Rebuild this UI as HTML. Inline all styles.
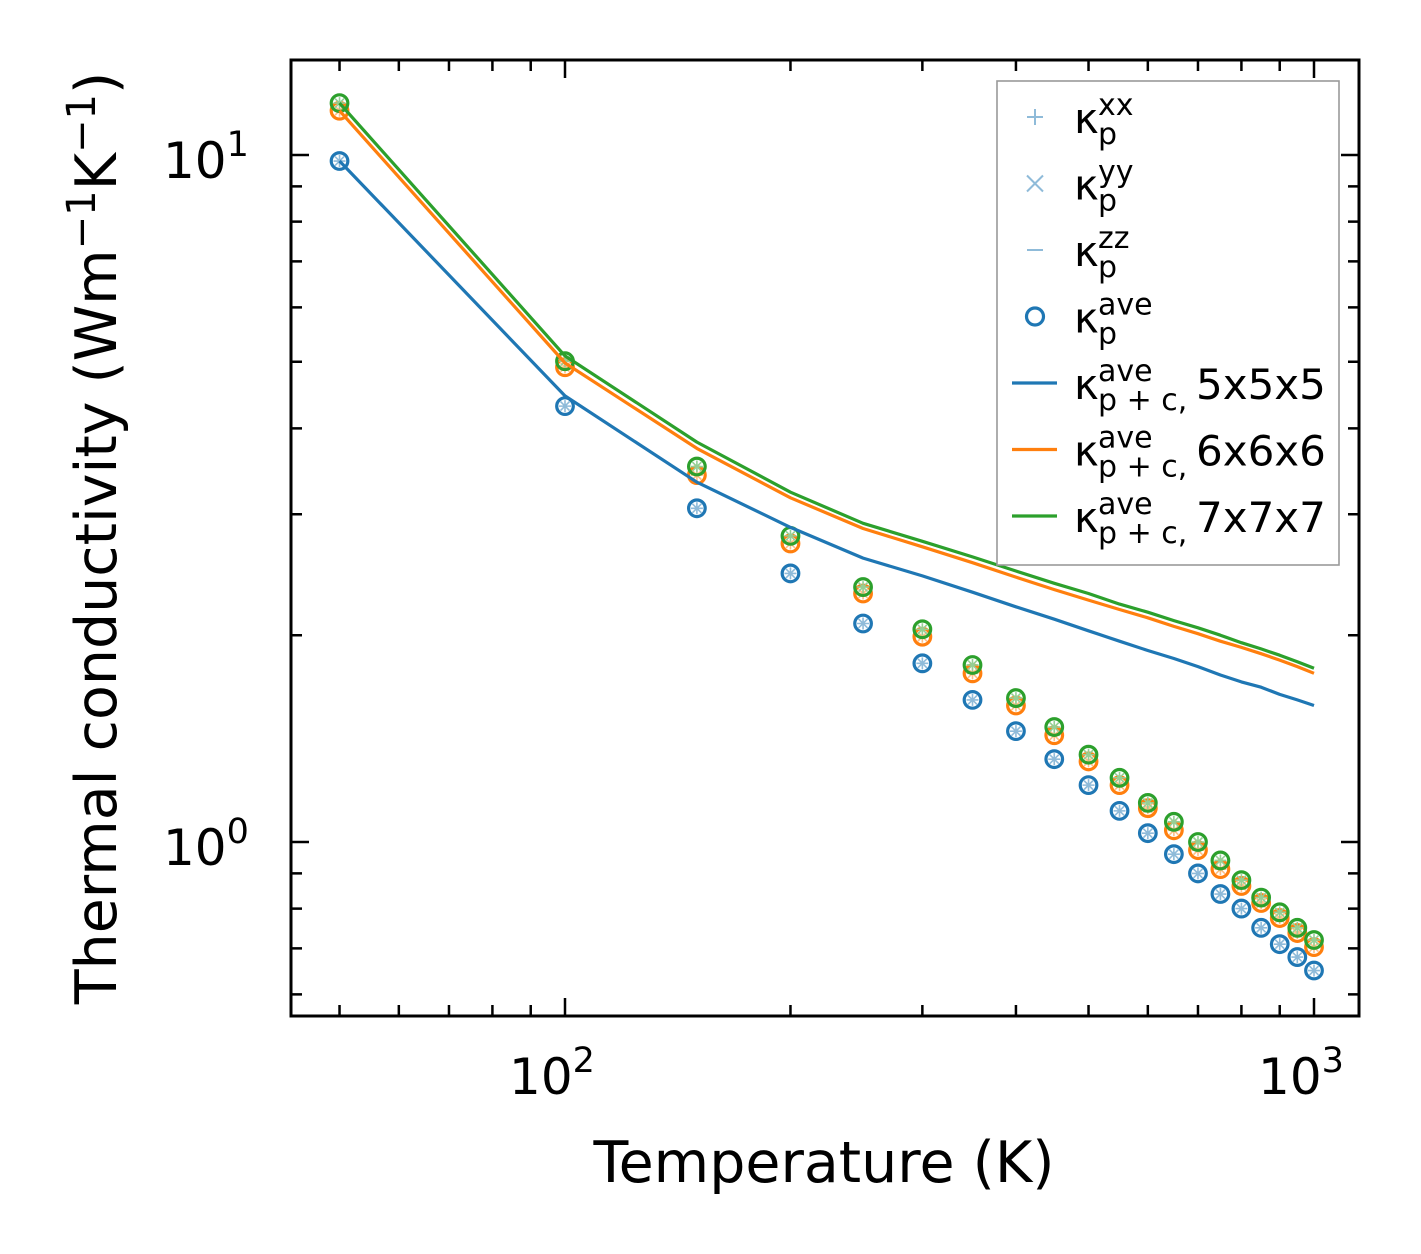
<!DOCTYPE html>
<html><head><meta charset="utf-8"><style>
html,body{margin:0;padding:0;background:#fff;}
svg{display:block;font-family:"DejaVu Sans","Liberation Sans",sans-serif;}
</style></head><body>
<svg id="chart" width="1421" height="1254" viewBox="0 0 1421 1254" xmlns="http://www.w3.org/2000/svg">
<rect x="0" y="0" width="1421" height="1254" fill="#fff"/>
<g id="marks"></g>
<g id="axes"></g>
<g id="legend"></g>
<text x="824" y="1182" font-size="57" text-anchor="middle">Temperature (K)</text>
<text transform="translate(116,538) rotate(-90)" font-size="57" text-anchor="middle">Thermal conductivity (Wm<tspan dy="-21" font-size="40">−1</tspan><tspan dy="21">K</tspan><tspan dy="-21" font-size="40">−1</tspan><tspan dy="21">)</tspan></text>
</svg>
<script>
const temps = [50,100,150,200,250,300,350,400,450,500,550,600,650,700,750,800,850,900,950,1000];
const kpAve5 = [9.8,4.31,3.06,2.46,2.08,1.82,1.61,1.45,1.32,1.21,1.11,1.03,0.96,0.90,0.84,0.80,0.75,0.71,0.68,0.65];
const kpAve6 = [11.6,4.91,3.42,2.72,2.30,1.99,1.76,1.58,1.43,1.31,1.21,1.12,1.04,0.973,0.913,0.863,0.815,0.775,0.737,0.703];
const kpAve7 = [11.9,5.01,3.52,2.79,2.35,2.04,1.81,1.62,1.47,1.34,1.24,1.14,1.07,1.0,0.94,0.88,0.83,0.79,0.75,0.72];
const kpc5 = [9.8,4.46,3.34,2.87,2.59,2.44,2.31,2.20,2.11,2.03,1.96,1.90,1.85,1.80,1.75,1.71,1.68,1.64,1.61,1.58];
const kpc6 = [11.6,4.98,3.74,3.17,2.86,2.69,2.55,2.43,2.33,2.25,2.18,2.12,2.06,2.01,1.96,1.92,1.88,1.84,1.80,1.76];
const kpc7 = [11.9,5.10,3.82,3.23,2.91,2.74,2.60,2.48,2.38,2.30,2.22,2.16,2.10,2.05,2.00,1.95,1.91,1.87,1.83,1.79];
const xMajorTicks = [100,1000];
const xMajorLabels = ["2","3"];
const yMajorTicks = [1,10];
const yMajorLabels = ["0","1"];

const NS="http://www.w3.org/2000/svg";
const L=291,R=1359,T=60,B=1016;
function xs(v){return 565+(Math.log10(v)-2)*749;}
function ys(v){return 842-Math.log10(v)*687;}
function mk(tag,attrs,parent){const e=document.createElementNS(NS,tag);for(const k in attrs)e.setAttribute(k,attrs[k]);parent.appendChild(e);return e;}
const marks=document.getElementById('marks');
const axes=document.getElementById('axes');
const legend=document.getElementById('legend');
const C={b:'#1f77b4',o:'#ff7f0e',g:'#2ca02c'};
const light={b:'#8fbbd9',o:'#ffbf86',g:'#95cf95'};

function drawLine(vals,color,name){
  const d=temps.map((t,i)=>(i?'L':'M')+xs(t).toFixed(1)+','+ys(vals[i]).toFixed(1)).join(' ');
  const p=mk('path',{d:d,fill:'none',stroke:color,'stroke-width':3.2,'stroke-linejoin':'round'},marks);
  
  
}
function drawPoints(vals,key,name){
  const g=mk('g',{},marks);
  
  
  temps.forEach((t,i)=>{
    const x=xs(t),y=ys(vals[i]);
    const c=mk('circle',{cx:x,cy:y,r:8.3,fill:'none',stroke:C[key],'stroke-width':3.2},g);
    
    
    const s=6,lc=light[key];
    mk('path',{d:`M${x-s},${y}H${x+s}M${x},${y-s}V${y+s}M${x-4.5},${y-4.5}L${x+4.5},${y+4.5}M${x-4.5},${y+4.5}L${x+4.5},${y-4.5}`,stroke:lc,'stroke-width':1.6,fill:'none'},g);
  });
}
drawPoints(kpAve5,'b','points-5x5x5');
drawPoints(kpAve6,'o','points-6x6x6');
drawPoints(kpAve7,'g','points-7x7x7');
drawLine(kpc5,C.b,'line-5x5x5');
drawLine(kpc6,C.o,'line-6x6x6');
drawLine(kpc7,C.g,'line-7x7x7');

const fr=mk('rect',{x:L,y:T,width:R-L,height:B-T,fill:'none',stroke:'#000','stroke-width':3},axes);


function tickX(v,len){const x=xs(v);mk('path',{d:`M${x},${B}v${-len}M${x},${T}v${len}`,stroke:'#000','stroke-width':2.5},axes);}
function tickY(v,len){const y=ys(v);mk('path',{d:`M${L},${y}h${len}M${R},${y}h${-len}`,stroke:'#000','stroke-width':2.5},axes);}
[50,60,70,80,90,200,300,400,500,600,700,800,900].forEach(v=>tickX(v,11));
xMajorTicks.forEach(v=>tickX(v,18));
[0.6,0.7,0.8,0.9,2,3,4,5,6,7,8,9].forEach(v=>tickY(v,11));
yMajorTicks.forEach(v=>tickY(v,18));
xMajorTicks.forEach((v,i)=>{
  const t=mk('text',{x:xs(v)-13,y:1094,'font-size':50,'text-anchor':'middle'},axes);
  
  
  t.innerHTML='10<tspan dy="-22" font-size="35">'+xMajorLabels[i]+'</tspan>';
});
yMajorTicks.forEach((v,i)=>{
  const t=mk('text',{x:163,y:ys(v)+23,'font-size':50},axes);
  
  
  t.innerHTML='10<tspan dy="-22" font-size="35">'+yMajorLabels[i]+'</tspan>';
});

const lb=mk('rect',{x:997,y:81,width:342,height:484,fill:'#fff',stroke:'#999','stroke-width':1.6},legend);


const entries=[
 {sup:'xx',sub:'p',sym:'plus'},{sup:'yy',sub:'p',sym:'x'},{sup:'zz',sub:'p',sym:'minus'},
 {sup:'ave',sub:'p',sym:'circle'},{sup:'ave',sub:'p + c',sym:'line',c:C.b,tail:'5x5x5'},
 {sup:'ave',sub:'p + c',sym:'line',c:C.o,tail:'6x6x6'},{sup:'ave',sub:'p + c',sym:'line',c:C.g,tail:'7x7x7'}];
entries.forEach((e,i)=>{
  const y=117+i*66.5;
  const g=mk('g',{},legend);
  
  
  const lc='#8fbbd9';
  if(e.sym==='plus')mk('path',{d:`M1027,${y}h16M1035,${y-8}v16`,stroke:lc,'stroke-width':2},g);
  if(e.sym==='x')mk('path',{d:`M1027,${y-8}l16,16M1027,${y+8}l16,-16`,stroke:lc,'stroke-width':2},g);
  if(e.sym==='minus')mk('path',{d:`M1027,${y}h16`,stroke:lc,'stroke-width':2},g);
  if(e.sym==='circle')mk('circle',{cx:1035,cy:y,r:8.5,fill:'none',stroke:C.b,'stroke-width':3.2},g);
  if(e.sym==='line')mk('path',{d:`M1012,${y}h45`,stroke:e.c,'stroke-width':3.2},g);
  const k=mk('text',{x:1074,y:y+16,'font-size':42},g);k.textContent='κ';
  const sp=mk('text',{x:1098,y:y-2,'font-size':30},g);sp.textContent=e.sup;
  const sb=mk('text',{x:1098,y:y+27,'font-size':30},g);sb.textContent=e.sub+(e.tail?',':'');
  if(e.tail){const tl=mk('text',{x:1196,y:y+16,'font-size':42},g);tl.textContent=e.tail;}
});
</script>
</body></html>
